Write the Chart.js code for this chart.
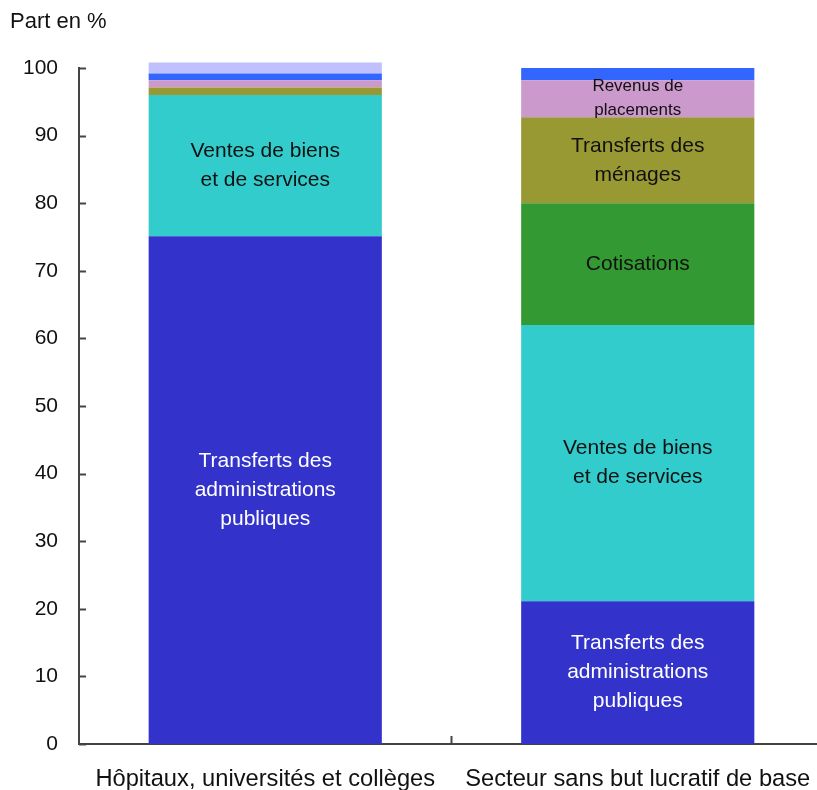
<!DOCTYPE html>
<html>
<head>
<meta charset="utf-8">
<script src="https://cdn.jsdelivr.net/npm/chart.js@4"></script>
<style>
  html, body { margin: 0; padding: 0; background: #fff; overflow: hidden; }
  canvas { display: block; }
</style>
</head>
<body>
<canvas id="chart" width="825" height="790"></canvas>
<script>
const categories = ['Hôpitaux, universités et collèges', 'Secteur sans but lucratif de base'];

// parts en % (bas vers haut)
const transfertsAdmin = [75.1, 21.1];
const ventes = [20.9, 40.9];
const cotisations = [0, 18.0];
const transfertsMenages = [1.1, 12.7];
const revenusPlacements = [1.1, 5.5];
const autres = [1.0, 1.8];
const autresSources = [1.6, 0];

const yTicks = [0, 10, 20, 30, 40, 50, 60, 70, 80, 90, 100];

// texte dans les segments, par catégorie
const lblAdmin = [['Transferts des', 'administrations', 'publiques'], ['Transferts des', 'administrations', 'publiques']];
const lblVentes = [['Ventes de biens', 'et de services'], ['Ventes de biens', 'et de services']];
const lblCotisations = [[], ['Cotisations']];
const lblMenages = [[], ['Transferts des', 'ménages']];
const lblRevenus = [[], ['Revenus de', 'placements']];

const FONT = "'Liberation Sans', Arial, sans-serif";
Chart.defaults.font.family = FONT;
Chart.defaults.color = '#111';

function ds(label, data, color, texts, textColor, textSize, lineH) {
  return {
    label: label,
    data: data,
    backgroundColor: color,
    borderWidth: 0,
    barPercentage: 0.626,
    categoryPercentage: 1,
    clip: false,
    segTexts: texts,
    segColor: textColor,
    segSize: textSize,
    segLine: lineH
  };
}

const segmentLabels = {
  id: 'segmentLabels',
  afterDatasetsDraw(chart) {
    const ctx = chart.ctx;
    chart.data.datasets.forEach((d, i) => {
      if (!d.segTexts) return;
      const meta = chart.getDatasetMeta(i);
      meta.data.forEach((bar, j) => {
        const lines = d.segTexts[j] || [];
        if (!lines.length) return;
        const cy = (bar.y + bar.base) / 2;
        ctx.save();
        ctx.fillStyle = d.segColor;
        ctx.font = d.segSize + 'px ' + FONT;
        ctx.textAlign = 'center';
        ctx.textBaseline = 'middle';
        const start = cy - (lines.length - 1) * d.segLine / 2;
        lines.forEach((t, k) => ctx.fillText(t, bar.x, start + k * d.segLine));
        ctx.restore();
      });
    });
  }
};

const axisExtras = {
  id: 'axisExtras',
  afterDraw(chart) {
    const ctx = chart.ctx;
    const y = chart.scales.y, x = chart.scales.x;
    ctx.save();
    ctx.strokeStyle = '#444';
    ctx.lineWidth = 2;
    // petites graduations vers l'intérieur
    yTicks.forEach(v => {
      const py = Math.round(y.getPixelForValue(v)) + 0.5;
      ctx.beginPath();
      ctx.moveTo(y.right, py);
      ctx.lineTo(y.right + 7, py);
      ctx.stroke();
    });
    for (let i = 1; i < categories.length; i++) {
      const px = (x.getPixelForValue(i - 1) + x.getPixelForValue(i)) / 2;
      ctx.beginPath();
      ctx.moveTo(px, x.top);
      ctx.lineTo(px, x.top - 8);
      ctx.stroke();
    }
    ctx.fillStyle = '#111';
    ctx.font = '22px ' + FONT;
    ctx.textAlign = 'left';
    ctx.textBaseline = 'middle';
    ctx.fillText('Part en %', 10, 22);
    ctx.restore();
  }
};

new Chart(document.getElementById('chart'), {
  type: 'bar',
  data: {
    labels: categories,
    datasets: [
      ds('Transferts des administrations publiques', transfertsAdmin, '#3333CC', lblAdmin, '#fff', 21, 29),
      ds('Ventes de biens et de services', ventes, '#33CCCC', lblVentes, '#111', 21, 29),
      ds('Cotisations', cotisations, '#339933', lblCotisations, '#111', 21, 29),
      ds('Transferts des ménages', transfertsMenages, '#999933', lblMenages, '#111', 21, 29),
      ds('Revenus de placements', revenusPlacements, '#CC99CC', lblRevenus, '#111', 17, 24),
      ds('Autres', autres, '#3366FF', null),
      ds('Autres sources', autresSources, '#C0C0FF', null)
    ]
  },
  options: {
    responsive: false,
    devicePixelRatio: 1,
    animation: false,
    layout: { padding: { top: 68, right: 1, left: 0, bottom: 0 } },
    plugins: {
      legend: { display: false },
      tooltip: { enabled: false }
    },
    scales: {
      x: {
        stacked: true,
        grid: { display: false, drawTicks: false },
        border: { display: true, color: '#444', width: 2 },
        ticks: {
          font: { size: 23.7 },
          color: '#111',
          padding: 21,
          maxRotation: 0,
          autoSkip: false
        },
        afterFit(scale) {
          scale.height = 46;
          scale.paddingLeft = 0;
          scale.paddingRight = 0;
        }
      },
      y: {
        stacked: true,
        min: 0,
        max: 100,
        grid: { display: false, drawTicks: false },
        border: { display: true, color: '#444', width: 2 },
        ticks: {
          stepSize: 10,
          font: { size: 21 },
          color: '#111',
          padding: 21
        },
        afterFit(scale) { scale.width = 79; }
      }
    }
  },
  plugins: [segmentLabels, axisExtras]
});
</script>
</body>
</html>
